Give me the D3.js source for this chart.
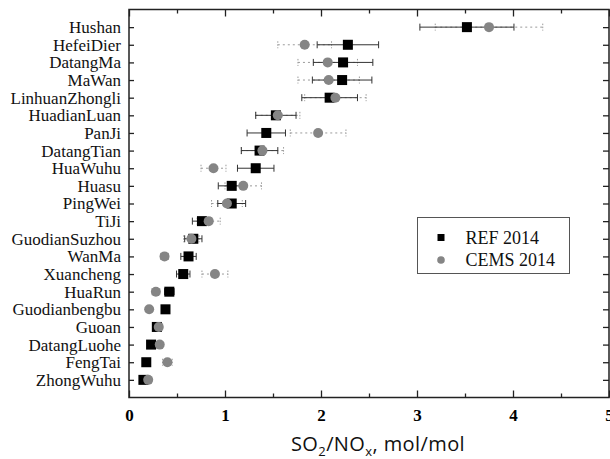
<!DOCTYPE html>
<html>
<head>
<meta charset="utf-8">
<script src="https://cdn.jsdelivr.net/npm/d3@7"></script>
<style>
  body { margin: 0; background: #fff; }
  svg { display: block; }
</style>
</head>
<body>
<svg id="Graph"></svg>
<script>
// sites, top to bottom
const sites = ["Hushan", "HefeiDier", "DatangMa", "MaWan", "LinhuanZhongli", "HuadianLuan",
    "PanJi", "DatangTian", "HuaWuhu", "Huasu", "PingWei", "TiJi", "GuodianSuzhou", "WanMa",
    "Xuancheng", "HuaRun", "Guodianbengbu", "Guoan", "DatangLuohe", "FengTai", "ZhongWuhu"];
// REF 2014
const refVal = [3.52, 2.28, 2.23, 2.22, 2.09, 1.53, 1.43, 1.36, 1.32, 1.07, 1.07, 0.76, 0.67,
    0.62, 0.565, 0.42, 0.38, 0.29, 0.23, 0.18, 0.15];
const refErr = [0.49, 0.32, 0.31, 0.31, 0.29, 0.21, 0.20, 0.19, 0.19, 0.14, 0.145, 0.10, 0.09,
    0.08, 0.07, 0.05, 0.04, 0.03, 0.03, 0.02, 0.03];
// CEMS 2014
const cemsVal = [3.75, 1.83, 2.07, 2.08, 2.15, 1.55, 1.97, 1.39, 0.88, 1.19, 1.02, 0.83, 0.65,
    0.37, 0.895, 0.28, 0.21, 0.31, 0.32, 0.40, 0.20];
const cemsErr = [0.56, 0.28, 0.31, 0.32, 0.32, 0.23, 0.29, 0.22, 0.13, 0.19, 0.16, 0.12, 0.08,
    0.04, 0.135, 0.04, 0.02, 0.04, 0.03, 0.05, 0.03];
const majorTicks = [0, 1, 2, 3, 4, 5];
const minorTicks = [0.5, 1.5, 2.5, 3.5, 4.5];
const legendLabels = ["REF 2014", "CEMS 2014"];

const w = 610, h = 459;
const padL = 129, padR = 609, padT = 9.5, padB = 397.5;

const svg = d3.select("#Graph")
    .attr("width", w)
    .attr("height", h);

const xScale = d3.scaleLinear().domain([0, 5]).range([padL, padR]);
const yScale = d3.scalePoint().domain(sites).range([padT, padB]).padding(1);

const serif = "'Liberation Serif', 'Times New Roman', serif";
const axisColor = "#222";

// axes (ticks inside)
function styleAxis(g) {
    g.select(".domain").remove();
    g.selectAll(".tick line").attr("stroke", axisColor).attr("stroke-width", 1.3);
}

svg.append("g")
    .attr("transform", "translate(0," + padB + ")")
    .call(d3.axisBottom(xScale).tickValues(majorTicks).tickSize(-7).tickPadding(11)
        .tickFormat(d3.format("d")))
    .call(styleAxis)
    .call(g => g.selectAll("text")
        .attr("font-family", serif).attr("font-weight", "bold")
        .attr("font-size", "17px").attr("fill", "#000"));

svg.append("g")
    .attr("transform", "translate(0," + padB + ")")
    .call(d3.axisBottom(xScale).tickValues(minorTicks).tickSize(-4).tickFormat(""))
    .call(styleAxis);

svg.append("g")
    .attr("transform", "translate(0," + padT + ")")
    .call(d3.axisTop(xScale).tickValues(majorTicks).tickSize(-7).tickFormat(""))
    .call(styleAxis);

svg.append("g")
    .attr("transform", "translate(0," + padT + ")")
    .call(d3.axisTop(xScale).tickValues(minorTicks).tickSize(-4).tickFormat(""))
    .call(styleAxis);

svg.append("g")
    .attr("transform", "translate(" + padL + ",0)")
    .call(d3.axisLeft(yScale).tickSize(-5).tickPadding(8))
    .call(styleAxis)
    .call(g => g.selectAll("text")
        .attr("font-family", serif).attr("font-size", "17px").attr("fill", "#111"));

svg.append("g")
    .attr("transform", "translate(" + padR + ",0)")
    .call(d3.axisRight(yScale).tickSize(-6).tickFormat(""))
    .call(styleAxis);

// frame
svg.append("rect")
    .attr("x", padL).attr("y", padT)
    .attr("width", padR - padL).attr("height", padB - padT)
    .attr("fill", "none").attr("stroke", axisColor).attr("stroke-width", 1.5);

// error bars
function errorBars(vals, errs, color, dash, cls) {
    const g = svg.append("g").attr("class", cls)
        .attr("stroke", color).attr("stroke-width", 1).attr("fill", "none");
    sites.forEach(function (s, i) {
        const y = yScale(s);
        const x0 = xScale(vals[i] - errs[i]), x1 = xScale(vals[i] + errs[i]);
        g.append("line").attr("x1", x0).attr("x2", x1).attr("y1", y).attr("y2", y)
            .attr("stroke-dasharray", dash);
        [x0, x1].forEach(function (x) {
            g.append("line").attr("x1", x).attr("x2", x).attr("y1", y - 3.5).attr("y2", y + 3.5)
                .attr("stroke-dasharray", dash ? "1.5,1.5" : null);
        });
    });
}

errorBars(cemsVal, cemsErr, "#9a9a9a", "2,3", "cemsErr");
errorBars(refVal, refErr, "#333", null, "refErr");

// REF squares
svg.selectAll("rect.ref")
    .data(sites)
    .enter()
    .append("rect")
    .attr("class", "ref")
    .attr("x", function (d, i) { return xScale(refVal[i]) - 5; })
    .attr("y", function (d) { return yScale(d) - 5; })
    .attr("width", 10)
    .attr("height", 10)
    .attr("fill", "#000");

// CEMS circles
svg.selectAll("circle.cems")
    .data(sites)
    .enter()
    .append("circle")
    .attr("class", "cems")
    .attr("cx", function (d, i) { return xScale(cemsVal[i]); })
    .attr("cy", function (d) { return yScale(d); })
    .attr("r", 5)
    .attr("fill", "#858585");

// legend
const lg = svg.append("g").attr("transform", "translate(417.5,217.5)");
lg.append("rect")
    .attr("width", 152).attr("height", 56)
    .attr("fill", "#fff").attr("stroke", "#555").attr("stroke-width", 1);
lg.append("rect")
    .attr("x", 20).attr("y", 16.5).attr("width", 7).attr("height", 7).attr("fill", "#000");
lg.append("circle")
    .attr("cx", 23.5).attr("cy", 42.5).attr("r", 3.8).attr("fill", "#858585");
lg.selectAll("text")
    .data(legendLabels)
    .enter()
    .append("text")
    .attr("x", 48)
    .attr("y", function (d, i) { return 26 + i * 22; })
    .attr("font-family", serif)
    .attr("font-size", "18px")
    .attr("fill", "#111")
    .text(function (d) { return d; });

// x axis title
const title = svg.append("text")
    .attr("x", 378)
    .attr("y", 451)
    .attr("text-anchor", "middle")
    .attr("font-family", "'Open Sans', 'Noto Sans', sans-serif")
    .attr("font-size", "20px")
    .attr("font-weight", 500)
    .attr("letter-spacing", "0.4px")
    .attr("fill", "#111");
title.append("tspan").text("SO");
title.append("tspan").attr("font-size", "13px").attr("dy", 5).text("2");
title.append("tspan").attr("dy", -5).text("/NO");
title.append("tspan").attr("font-size", "13px").attr("dy", 5).text("x");
title.append("tspan").attr("dy", -5).text(", mol/mol");
</script>
</body>
</html>
